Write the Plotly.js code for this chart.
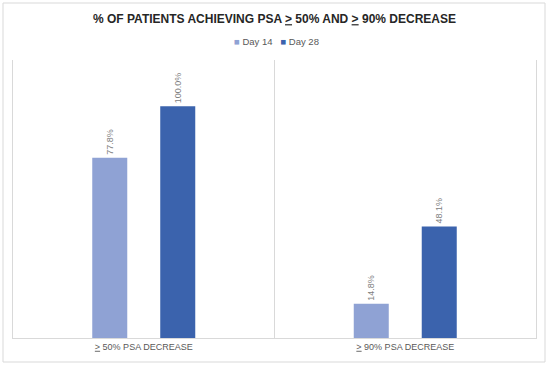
<!DOCTYPE html>
<html>
<head>
<meta charset="utf-8">
<script src="https://cdn.plot.ly/plotly-3.0.1.min.js"></script>
<style>html,body{margin:0;padding:0;background:#fff;}#chart{width:550px;height:367px;}</style>
</head>
<body>
<div id="chart"></div>
<script>
const categories = ["<u>&gt;</u> 50% PSA DECREASE", "<u>&gt;</u> 90% PSA DECREASE"];
const seriesNames = ["Day 14", "Day 28"];
const day14 = [77.8, 14.8];
const day28 = [100.0, 48.1];
const colors = ["#8fa2d4", "#3b63ad"];

function fmt(v){ return v.toFixed(1) + "%"; }

const traces = [day14, day28].map((vals, i) => ({
  type: "bar",
  name: seriesNames[i],
  x: categories,
  y: vals,
  text: vals.map(fmt),
  textposition: "outside",
  textangle: -90,
  cliponaxis: false,
  textfont: {family: "Liberation Sans, Arial, sans-serif", size: 9, color: "#808080"},
  marker: {color: colors[i]},
  showlegend: false,
  hoverinfo: "skip"
}));

const legendText = seriesNames.map((n, i) =>
  "<span style='color:" + colors[i] + "'>■</span> " + n).join("   ");

const layout = {
  width: 550, height: 367,
  margin: {l: 13, r: 14, t: 60, b: 29},
  paper_bgcolor: "#ffffff",
  plot_bgcolor: "#ffffff",
  font: {family: "Liberation Sans, Arial, sans-serif", color: "#595959"},
  title: {
    text: "<b>% OF PATIENTS ACHIEVING PSA <u>&gt;</u> 50% AND <u>&gt;</u> 90% DECREASE</b>",
    font: {family: "Liberation Sans, Arial, sans-serif", size: 12, color: "#262626"},
    x: 0.5, xanchor: "center", xref: "paper",
    y: 1 - 19/367, yanchor: "middle", yref: "container"
  },
  barmode: "group",
  bargap: 0.48,
  bargroupgap: 0.485,
  showlegend: false,
  annotations: [{
    text: legendText,
    xref: "paper", yref: "paper",
    x: (276 - 13)/523, xanchor: "center",
    y: 1 + 18/278, yanchor: "middle",
    showarrow: false,
    font: {family: "Liberation Sans, Arial, sans-serif", size: 9.5, color: "#595959"}
  }],
  xaxis: {
    type: "category",
    tickson: "boundaries",
    showgrid: true, gridcolor: "#d9d9d9", gridwidth: 1,
    showline: true, linecolor: "#d9d9d9", linewidth: 1,
    ticks: "",
    tickfont: {size: 9, color: "#595959"},
    zeroline: false,
    fixedrange: true
  },
  yaxis: {
    range: [0, 120],
    showticklabels: false,
    ticks: "",
    showline: true, mirror: true, linecolor: "#d9d9d9", linewidth: 1,
    showgrid: false,
    zeroline: false,
    fixedrange: true
  },
  shapes: [{
    type: "rect", xref: "paper", yref: "paper",
    x0: (3 - 13)/523, x1: (545 - 13)/523,
    y0: (338 - 362)/278, y1: (338 - 3)/278,
    line: {color: "#d9d9d9", width: 1},
    fillcolor: "rgba(0,0,0,0)",
    layer: "below"
  }]
};

Plotly.newPlot("chart", traces, layout, {staticPlot: true, displayModeBar: false});
</script>
</body>
</html>
